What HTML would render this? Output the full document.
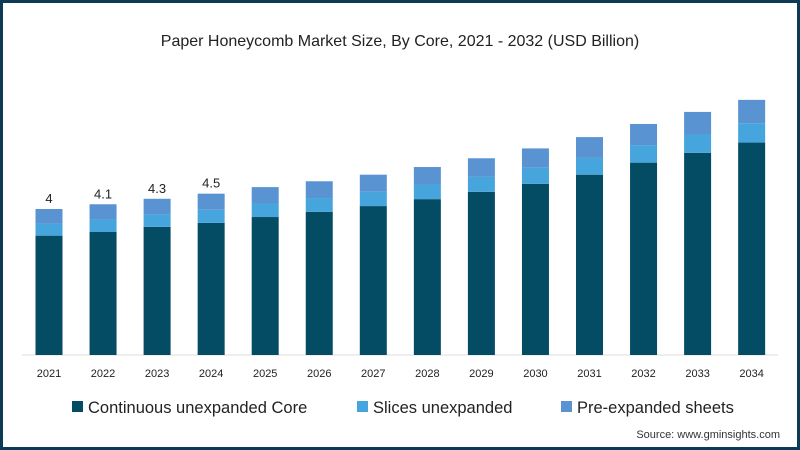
<!DOCTYPE html>
<html><head><meta charset="utf-8"><style>
body{margin:0;width:800px;height:450px;overflow:hidden;background:#fff;font-family:"Liberation Sans",sans-serif}
#frame{position:absolute;left:0;top:0;width:794px;height:444px;border:3px solid #0c3b56;}
</style></head><body>
<div id="frame"></div>
<svg id="c" width="800" height="450" style="position:absolute;left:0;top:0">
<text x="400" y="46" text-anchor="middle" font-size="16" fill="#222">Paper Honeycomb Market Size, By Core, 2021 - 2032 (USD Billion)</text>
<line x1="22" y1="355" x2="778" y2="355" stroke="#ddd" stroke-width="1"/>
<g id="bars"></g>
<g>
<rect x="72" y="401" width="11" height="11" fill="#034c64"/>
<text x="88" y="413" font-size="16.5" fill="#222">Continuous unexpanded Core</text>
<rect x="357" y="401" width="11" height="11" fill="#45a5dc"/>
<text x="373" y="413" font-size="16.5" fill="#222">Slices unexpanded</text>
<rect x="561" y="401" width="11" height="11" fill="#5a93d2"/>
<text x="577" y="413" font-size="16.5" fill="#222">Pre-expanded sheets</text>
</g>
<text x="780" y="438" text-anchor="end" font-size="11" fill="#333">Source: www.gminsights.com</text>
</svg>
<script>
const years=["2021","2022","2023","2024","2025","2026","2027","2028","2029","2030","2031","2032","2033","2034"];
const continuous=[3.27,3.37,3.51,3.62,3.78,3.92,4.08,4.27,4.47,4.69,4.94,5.27,5.54,5.82];
const slices=[0.33,0.34,0.35,0.36,0.37,0.38,0.39,0.40,0.41,0.44,0.46,0.48,0.50,0.53];
const preExpanded=[0.40,0.42,0.42,0.44,0.45,0.46,0.47,0.48,0.51,0.53,0.57,0.58,0.62,0.64];
const totalLabels=["4","4.1","4.3","4.5"];
const NS="http://www.w3.org/2000/svg";
const base=355, scale=36.5, x0=49, step=54.05, bw=27;
const y=v=>base-v*scale;
const xc=i=>x0+i*step;
const g=document.getElementById('bars');
function mk(tag,attrs){const e=document.createElementNS(NS,tag);for(const k in attrs)e.setAttribute(k,attrs[k]);return e;}
const series=[[continuous,"#034c64","continuous"],[slices,"#45a5dc","slices"],[preExpanded,"#5a93d2","pre-expanded"]];
years.forEach((yr,i)=>{
  let acc=0;
  series.forEach(([arr,col,nm])=>{
    const r=mk('rect',{x:xc(i)-bw/2,y:y(acc+arr[i]),width:bw,height:arr[i]*scale,fill:col});
    
    
    g.appendChild(r);acc+=arr[i];
  });
  const t=mk('text',{x:xc(i),y:377,'text-anchor':'middle','font-size':11,fill:'#222'});
  t.textContent=yr;
  
  
  g.appendChild(t);
  if(i<totalLabels.length){
    const l=mk('text',{x:xc(i),y:y(acc)-6,'text-anchor':'middle','font-size':13,fill:'#222'});
    l.textContent=totalLabels[i];
    
    
    g.appendChild(l);
  }
});
</script>
</body></html>
